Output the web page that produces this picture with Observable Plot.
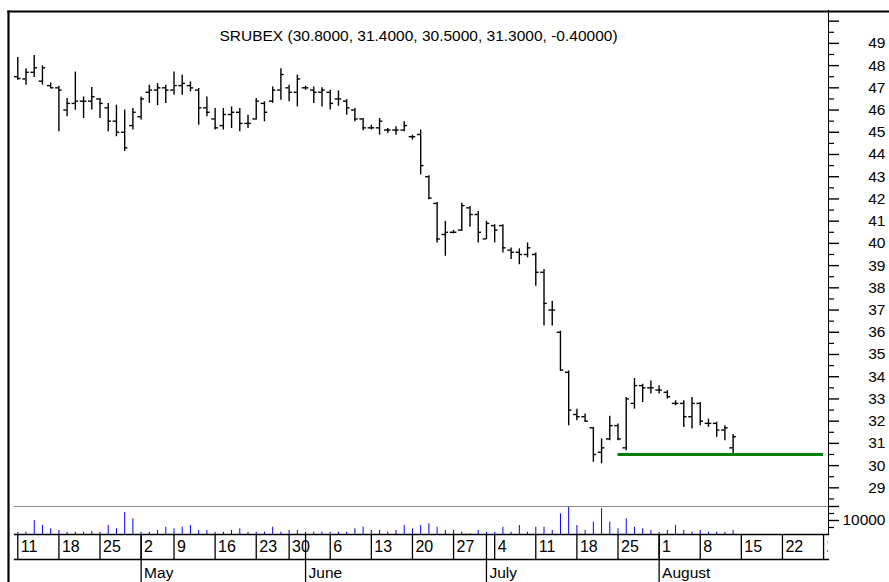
<!DOCTYPE html>
<html><head><meta charset="utf-8">
<script src="https://cdn.jsdelivr.net/npm/d3@7"></script>
<script src="https://cdn.jsdelivr.net/npm/@observablehq/plot@0.6"></script>
<style>
html,body{margin:0;padding:0;background:#fff;}
#chart{position:relative;width:889px;height:582px;overflow:hidden;background:#fff;}
</style></head><body><div id="chart"></div>
<script>
// ---------- data ----------
const symbol = "SRUBEX";
const dates = [
"2005-04-11","2005-04-12","2005-04-13","2005-04-14","2005-04-15","2005-04-18","2005-04-19","2005-04-20","2005-04-21","2005-04-22",
"2005-04-25","2005-04-26","2005-04-27","2005-04-28","2005-04-29","2005-05-02","2005-05-03","2005-05-04","2005-05-06","2005-05-09",
"2005-05-10","2005-05-11","2005-05-12","2005-05-13","2005-05-16","2005-05-17","2005-05-18","2005-05-19","2005-05-20","2005-05-23",
"2005-05-24","2005-05-25","2005-05-27","2005-05-30","2005-05-31","2005-06-01","2005-06-02","2005-06-03","2005-06-06","2005-06-07",
"2005-06-08","2005-06-09","2005-06-10","2005-06-13","2005-06-14","2005-06-15","2005-06-16","2005-06-17","2005-06-20","2005-06-21",
"2005-06-22","2005-06-23","2005-06-24","2005-06-27","2005-06-28","2005-06-29","2005-06-30","2005-07-01","2005-07-04","2005-07-05",
"2005-07-06","2005-07-07","2005-07-08","2005-07-11","2005-07-12","2005-07-13","2005-07-14","2005-07-15","2005-07-18","2005-07-19",
"2005-07-20","2005-07-21","2005-07-22","2005-07-25","2005-07-26","2005-07-27","2005-07-28","2005-07-29","2005-08-01","2005-08-02",
"2005-08-03","2005-08-04","2005-08-05","2005-08-08","2005-08-09","2005-08-10","2005-08-11","2005-08-12"];
const futureSessions = ["2005-08-15","2005-08-16","2005-08-17","2005-08-18","2005-08-19","2005-08-22","2005-08-23","2005-08-24",
"2005-08-25","2005-08-26","2005-08-29","2005-08-30","2005-08-31"];

const open = [47.5,47.4,47.7,47.3,47.1,47.0,46.0,46.3,46.4,46.4,
46.5,46.1,45.5,45.0,45.3,45.7,46.8,46.9,47.0,46.9,
47.1,47.1,46.9,46.1,45.6,45.3,45.8,45.9,45.4,45.6,
46.3,46.4,46.9,47.0,46.8,47.0,46.9,46.8,46.8,46.5,
46.4,46.0,45.6,45.2,45.2,45.1,45.1,45.1,44.8,44.9,
43.0,41.8,40.4,40.5,40.6,41.6,41.3,40.2,40.8,40.8,
39.7,39.6,39.5,39.5,38.7,37.0,36.0,34.2,32.3,32.2,
31.7,30.6,31.2,31.8,30.8,32.8,33.6,33.5,33.4,33.3,
32.8,32.8,32.2,32.8,31.9,31.9,31.6,30.8];
const high = [48.36,47.86,48.46,47.99,47.22,47.07,46.52,47.71,46.59,47.01,
46.52,46.29,46.22,46.0,46.07,46.59,47.12,47.19,47.12,47.71,
47.57,47.27,46.97,46.59,46.07,46.07,46.14,46.07,45.77,46.52,
46.37,47.04,47.86,47.12,47.57,47.07,47.04,47.0,46.89,46.86,
46.47,46.07,45.62,45.32,45.62,45.17,45.25,45.47,44.87,45.10,
43.04,41.84,40.99,40.58,41.81,41.66,41.44,40.99,40.84,40.84,
39.79,39.75,40.02,39.57,38.82,37.4,36.05,34.26,32.54,32.32,
31.72,31.2,32.22,31.87,33.07,33.92,33.66,33.81,33.59,33.37,
32.92,32.92,33.07,32.84,32.09,31.95,31.79,31.4];
const low = [47.34,47.12,47.46,47.12,46.97,45.02,45.70,45.99,45.62,46.0,
45.62,45.02,44.8,44.13,45.1,45.55,46.3,46.2,46.3,46.67,
46.67,46.82,45.32,45.70,45.10,45.10,45.17,45.02,45.17,45.55,
45.47,46.3,46.44,46.37,46.14,46.89,46.3,46.14,46.0,46.17,
45.77,45.47,45.07,45.10,44.87,44.95,44.87,45.02,44.65,43.08,
41.96,40.02,39.42,40.43,40.54,40.73,40.02,40.17,40.02,39.57,
39.27,39.04,39.35,38.07,36.28,36.28,34.26,31.79,32.02,31.95,
30.15,30.08,31.12,31.12,30.67,32.54,32.84,33.22,33.22,32.99,
32.69,31.72,31.65,31.79,31.72,31.27,31.12,30.5];
const close = [47.42,47.7,47.9,47.9,47.0,46.9,46.3,46.4,46.4,46.6,
46.3,45.5,45.0,44.3,45.9,46.5,46.9,47.0,46.9,47.1,
47.2,47.0,46.1,45.9,45.2,45.8,45.9,45.4,45.4,46.4,
45.9,46.9,47.6,46.8,47.4,47.0,46.8,46.9,46.3,46.5,
46.1,45.6,45.2,45.2,45.5,45.1,45.1,45.3,44.8,43.5,
42.04,40.2,40.5,40.5,41.7,41.3,40.5,40.9,40.6,39.8,
39.6,39.5,39.8,38.7,37.3,37.0,34.3,32.5,32.2,32.0,
30.5,30.8,31.8,31.2,33.0,33.6,33.5,33.5,33.4,33.1,
32.8,32.2,32.8,32.0,31.9,31.6,31.7,31.3];
const volume = [1600,1600,10000,6400,4100,2900,1600,1600,1600,2100,
1600,6400,4100,15700,11200,1600,1600,2900,5200,4100,
5200,6400,2900,2900,1600,1600,2900,4100,1600,1600,
1600,5200,1600,2900,2900,1600,1600,1600,1600,1600,
1600,4100,5200,2900,2900,1600,2900,6400,4100,6400,
7600,5200,2900,2900,1600,500,2900,1600,1600,5200,
1600,6400,1600,5200,5200,2900,14800,19500,6400,2900,
8800,18400,8800,4100,11200,5200,4100,2900,1600,2900,
6400,2900,1600,2900,1600,1600,1600,2900];
const support = {from: "2005-07-25", to: "2005-08-29", price: 30.5};
const priceTicks = [29,30,31,32,33,34,35,36,37,38,39,40,41,42,43,44,45,46,47,48,49,50];
const priceMinorTicks = [28.5,29.5,30.5,31.5,32.5,33.5,34.5,35.5,36.5,37.5,38.5,39.5,40.5,41.5,42.5,43.5,44.5,45.5,46.5,47.5,48.5,49.5];
const volumeTicks = [10000, 20000];
const volumeMinorTicks = [5000, 15000];
const volumeLabels = [10000];

// ---------- derived ----------
const parse = d3.utcParse("%Y-%m-%d");
const sessions = dates.concat(futureSessions).map((s, i) => ({i, date: parse(s)}));
const index = new Map(dates.concat(futureSessions).map((s, i) => [s, i]));
const bars = dates.map((d, i) => ({i, o: open[i], h: high[i], l: low[i], c: close[i], v: volume[i]}));
const weekStarts = sessions.filter((d, k) => k === 0 || d.date.getUTCDay() < sessions[k - 1].date.getUTCDay())
  .map(d => ({i: d.i, label: String(d.date.getUTCDate())}));
const monthStarts = sessions.filter((d, k) => k > 0 && d.date.getUTCMonth() !== sessions[k - 1].date.getUTCMonth())
  .map(d => ({i: d.i, label: d3.utcFormat("%B")(d.date)}));
const last = bars[bars.length - 1], prev = bars[bars.length - 2];
const title = `${symbol} (${last.o.toFixed(4)}, ${last.h.toFixed(4)}, ${last.l.toFixed(4)}, ${last.c.toFixed(4)}, ${(last.c - prev.c).toFixed(5)})`;
const supportRow = [{x1: index.get(support.from), x2: index.get(support.to), y: support.price}];

// ---------- layout ----------
const W = 889;
const font = "'Liberation Sans', Arial, Helvetica, sans-serif";
const xOpt = {type: "linear", domain: [-0.4, 98.6], axis: null};
const side = {marginLeft: 14, marginRight: 61};
const style = {fontFamily: font, fontSize: "15.5px", background: "transparent", overflow: "visible", color: "#000"};
const chart = document.getElementById("chart");
function place(svg, top) {
  svg.style.position = "absolute"; svg.style.left = "0px"; svg.style.top = top + "px";
  svg.style.background = "transparent"; svg.style.overflow = "visible"; svg.style.maxWidth = "none";
  chart.append(svg);
}

// price panel
const price = Plot.plot({
  width: W, height: 506, marginTop: 10, marginBottom: 0, ...side, style,
  x: xOpt,
  y: {domain: [28.16, 50.48], axis: null},
  marks: [
    Plot.ruleX(bars, {x: "i", y1: "l", y2: "h", stroke: "#000", strokeWidth: 1.4}),
    Plot.ruleY(bars, {y: "o", x1: d => d.i - 0.4, x2: "i", stroke: "#000", strokeWidth: 1.4}),
    Plot.ruleY(bars, {y: "c", x1: "i", x2: d => d.i + 0.4, stroke: "#000", strokeWidth: 1.4}),
    Plot.ruleY(supportRow, {y: "y", x1: "x1", x2: "x2", stroke: "#008000", strokeWidth: 3.2}),
    Plot.frame({anchor: "right", stroke: "#000", strokeWidth: 1}),
    Plot.axisY({anchor: "right", ticks: priceTicks, tickSize: 10, tickPadding: 47, textAnchor: "end", label: null,
      tickFormat: d => d === 50 ? "" : String(d), strokeWidth: 1.4, fontSize: 15.5}),
    Plot.axisY({anchor: "right", ticks: priceMinorTicks, tickSize: 5, tickFormat: () => "", label: null, strokeWidth: 1.2}),
    Plot.text([title], {frameAnchor: "top", dy: 19, dx: -3, fontSize: 15.5})
  ]
});
place(price, 0);

// volume panel
const vol = Plot.plot({
  width: W, height: 40, marginTop: 6, marginBottom: 6, ...side, style,
  x: xOpt,
  y: {domain: [0, 20000], axis: null},
  marks: [
    Plot.ruleX(bars, {x: "i", y1: 0, y2: "v", stroke: "#0000ff", strokeWidth: 1}),
    Plot.frame({anchor: "top", stroke: "#8a8a8a", strokeWidth: 1.2}),
    Plot.frame({anchor: "bottom", stroke: "#000", strokeWidth: 1.3}),
    Plot.frame({anchor: "right", stroke: "#000", strokeWidth: 1}),
    Plot.axisY({anchor: "right", ticks: volumeTicks, tickSize: 10, tickPadding: 47, textAnchor: "end", label: null,
      tickFormat: d => volumeLabels.includes(d) ? String(d) : "", strokeWidth: 1.4, fontSize: 15.5}),
    Plot.axisY({anchor: "right", ticks: volumeMinorTicks, tickSize: 5, tickFormat: () => "", label: null, strokeWidth: 1.2})
  ]
});
place(vol, 500);

// day row
const days = Plot.plot({
  width: W, height: 37, marginTop: 6, marginBottom: 6, ...side, style,
  x: xOpt,
  marks: [
    Plot.tickX(weekStarts, {x: "i", stroke: "#000", strokeWidth: 1.3}),
    Plot.tickX(monthStarts, {x: "i", stroke: "#000", strokeWidth: 1.3}),
    Plot.text(weekStarts, {x: "i", text: "label", textAnchor: "start", dx: 3, dy: 0, fontSize: 16, clip: true}),
    Plot.frame({anchor: "bottom", stroke: "#000", strokeWidth: 1.3})
  ]
});
place(days, 528);

// month row
const months = Plot.plot({
  width: W, height: 29, marginTop: 6, marginBottom: 0, ...side, style,
  x: xOpt,
  marks: [
    Plot.tickX(monthStarts, {x: "i", stroke: "#000", strokeWidth: 1.3}),
    Plot.text(monthStarts, {x: "i", text: "label", textAnchor: "start", dx: 3, dy: 2.5, fontSize: 15.5})
  ]
});
place(months, 553);

// outer border
const border = Plot.plot({
  width: W, height: 582, marginLeft: 8, marginTop: 11, marginRight: 0, marginBottom: 0, style,
  marks: [
    Plot.frame({anchor: "left", stroke: "#000", strokeWidth: 2.2}),
    Plot.frame({anchor: "top", stroke: "#000", strokeWidth: 2.2})
  ]
});
place(border, 0);
</script></body></html>
